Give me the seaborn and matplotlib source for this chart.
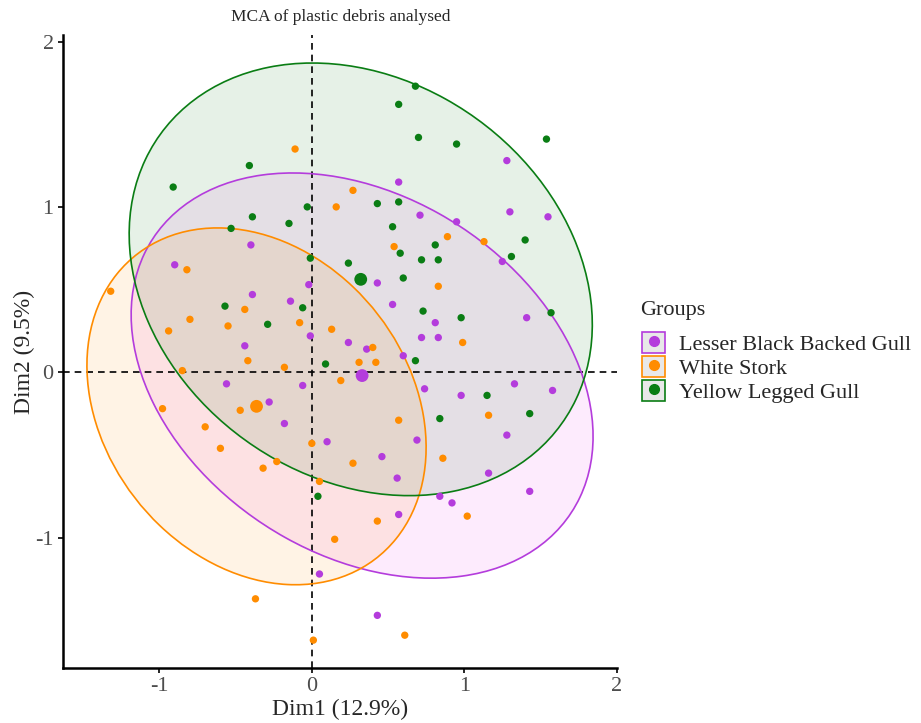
import numpy as np
import pandas as pd
import matplotlib
matplotlib.use("Agg")
import matplotlib.pyplot as plt
import seaborn as sns
from matplotlib.patches import Ellipse, Rectangle
from matplotlib.lines import Line2D

# individual coordinates (Dim1, Dim2)
lbbg_x = [-0.40, 1.28, 0.57, 0.71, 0.95, 1.30, 1.55, 1.25, 0.43, 0.53, 0.81, 1.41, 0.24, 0.36,
          0.72, 0.83, 0.60, 0.74, 0.98, 1.33, 1.58, 1.28, 0.69, 0.46, 0.10, -0.90, -0.02, -0.39,
          -0.14, -0.01, -0.44, -0.56, -0.06, -0.28, -0.18, 0.56, 1.16, 1.43, 0.84, 0.92, 0.57,
          0.05, 0.43]
lbbg_y = [0.77, 1.28, 1.15, 0.95, 0.91, 0.97, 0.94, 0.67, 0.54, 0.41, 0.30, 0.33, 0.18, 0.14,
          0.21, 0.21, 0.10, -0.10, -0.14, -0.07, -0.11, -0.38, -0.41, -0.51, -0.42, 0.65, 0.53,
          0.47, 0.43, 0.22, 0.16, -0.07, -0.08, -0.18, -0.31, -0.64, -0.61, -0.72, -0.75, -0.79,
          -0.86, -1.22, -1.47]

ws_x = [-0.11, 0.16, 0.27, 0.89, 1.13, 0.54, 0.83, 0.13, 0.40, 0.99, 0.31, 0.42, 0.19, 1.16,
        0.57, 0.86, -0.82, -1.32, -0.44, -0.80, -0.55, -0.08, -0.94, -0.42, -0.18, -0.85, -0.98,
        -0.47, -0.70, -0.60, 0.00, -0.32, -0.23, 0.05, 0.15, -0.37, 0.01, 0.27, 1.02, 0.43, 0.61]
ws_y = [1.35, 1.00, 1.10, 0.82, 0.79, 0.76, 0.52, 0.26, 0.15, 0.18, 0.06, 0.06, -0.05, -0.26,
        -0.29, -0.52, 0.62, 0.49, 0.38, 0.32, 0.28, 0.30, 0.25, 0.07, 0.03, 0.01, -0.22, -0.23,
        -0.33, -0.46, -0.43, -0.58, -0.54, -0.66, -1.01, -1.37, -1.62, -0.55, -0.87, -0.90, -1.59]

ylg_x = [-0.41, -0.91, -0.03, -0.39, -0.15, -0.53, -0.01, 0.68, 0.57, 0.70, 0.95, 1.54, 0.43,
         0.57, 0.53, 1.40, 0.58, 0.81, 1.31, 0.24, 0.72, 0.83, 0.60, 0.73, 0.98, 1.57, 0.68,
         1.15, 1.43, 0.84, -0.57, -0.06, -0.29, 0.09, 0.04]
ylg_y = [1.25, 1.12, 1.00, 0.94, 0.90, 0.87, 0.69, 1.73, 1.62, 1.42, 1.38, 1.41, 1.02, 1.03,
         0.88, 0.80, 0.72, 0.77, 0.70, 0.66, 0.68, 0.68, 0.57, 0.37, 0.33, 0.36, 0.07, -0.14,
         -0.25, -0.28, 0.40, 0.39, 0.29, 0.05, -0.75]

groups = ["Lesser Black Backed Gull", "White Stork", "Yellow Legged Gull"]
colors = ["#B43CDC", "#FF8C00", "#0A7D14"]
fills = ["#EE3CEE", "#FF8C00", "#0A7D14"]

centroid_x = [0.330, -0.363, 0.321]
centroid_y = [-0.020, -0.206, 0.562]

# 95% concentration ellipses: variance / covariance terms
ell_sxx = [2.298, 1.239, 2.310]
ell_syy = [1.501, 1.164, 1.711]
ell_sxy = [-0.558, -0.276, -0.415]

df = pd.concat([
    pd.DataFrame({"Dim1": lbbg_x, "Dim2": lbbg_y, "Groups": groups[0]}),
    pd.DataFrame({"Dim1": ws_x, "Dim2": ws_y, "Groups": groups[1]}),
    pd.DataFrame({"Dim1": ylg_x, "Dim2": ylg_y, "Groups": groups[2]}),
], ignore_index=True)
means = pd.DataFrame({"Dim1": centroid_x, "Dim2": centroid_y, "Groups": groups})
palette = dict(zip(groups, colors))

sns.set_style("white")
plt.rcParams["font.family"] = ["Liberation Serif", "DejaVu Serif"]

fig = plt.figure(figsize=(9.21, 7.23), dpi=100)
ax = fig.add_axes([0.0681, 0.0757, 0.602, 0.876])

for i, g in enumerate(groups):
    m = np.array([[ell_sxx[i], ell_sxy[i]], [ell_sxy[i], ell_syy[i]]])
    vals, vecs = np.linalg.eigh(m)
    order = vals.argsort()[::-1]
    vals, vecs = vals[order], vecs[:, order]
    angle = np.degrees(np.arctan2(vecs[1, 0], vecs[0, 0]))
    c = (centroid_x[i], centroid_y[i])
    w, h = 2 * np.sqrt(vals[0]), 2 * np.sqrt(vals[1])
    ax.add_patch(Ellipse(c, w, h, angle=angle, facecolor=fills[i], alpha=0.1,
                         edgecolor="none", zorder=1))
    ax.add_patch(Ellipse(c, w, h, angle=angle, facecolor="none", edgecolor=palette[g],
                         lw=1.2, zorder=2))

ax.axhline(0, color="black", ls=(0, (4, 3)), lw=1.2, zorder=1.5)
ax.axvline(0, color="black", ls=(0, (4, 3)), lw=1.2, zorder=1.5)

sns.scatterplot(data=df, x="Dim1", y="Dim2", hue="Groups", palette=palette, s=28,
                edgecolor="none", legend=False, ax=ax, zorder=3)
sns.scatterplot(data=means, x="Dim1", y="Dim2", hue="Groups", palette=palette, s=85,
                edgecolor="none", legend=False, ax=ax, zorder=4)

ax.set_xlim(-1.635, 2.004)
ax.set_ylim(-1.79, 2.04)
ax.set_xticks([-1, 0, 1, 2])
ax.set_yticks([-1, 0, 1, 2])
ax.set_xticklabels(["-1", "0", "1", "2"])
ax.set_yticklabels(["-1", "0", "1", "2"])
for s in ["top", "right"]:
    ax.spines[s].set_visible(False)
for s in ["left", "bottom"]:
    ax.spines[s].set_linewidth(1.8)
    ax.spines[s].set_color("black")
ax.tick_params(axis="both", length=3.5, width=1.2, color="black", labelcolor="#4D4D4D",
               labelsize=16, direction="out", bottom=True, left=True, pad=3)
ax.set_xlabel("Dim1 (12.9%)", fontsize=17, labelpad=2)
ax.set_ylabel("Dim2 (9.5%)", fontsize=17, labelpad=0)
fig.text(0.37, 0.976, "MCA of plastic debris analysed", ha="center", va="center", fontsize=12.5)

handles = []
for g in groups:
    box = Rectangle((0, 0), 1, 1, facecolor="#E8E8E8", edgecolor=palette[g], lw=1.2)
    dot = Line2D([], [], marker="o", color=palette[g], linestyle="none", markersize=7)
    handles.append((box, dot))
fig.text(640 / 921, 1 - 310 / 723, "Groups", ha="left", va="center", fontsize=16)
ax.legend(handles, groups, loc="upper left", bbox_to_anchor=(0.697, 0.5408),
          bbox_transform=fig.transFigure, frameon=False, fontsize=16,
          handlelength=1.05, handleheight=1.05, handletextpad=0.6, labelspacing=0.05,
          borderpad=0, borderaxespad=0)

plt.savefig("out.png", dpi=100)
